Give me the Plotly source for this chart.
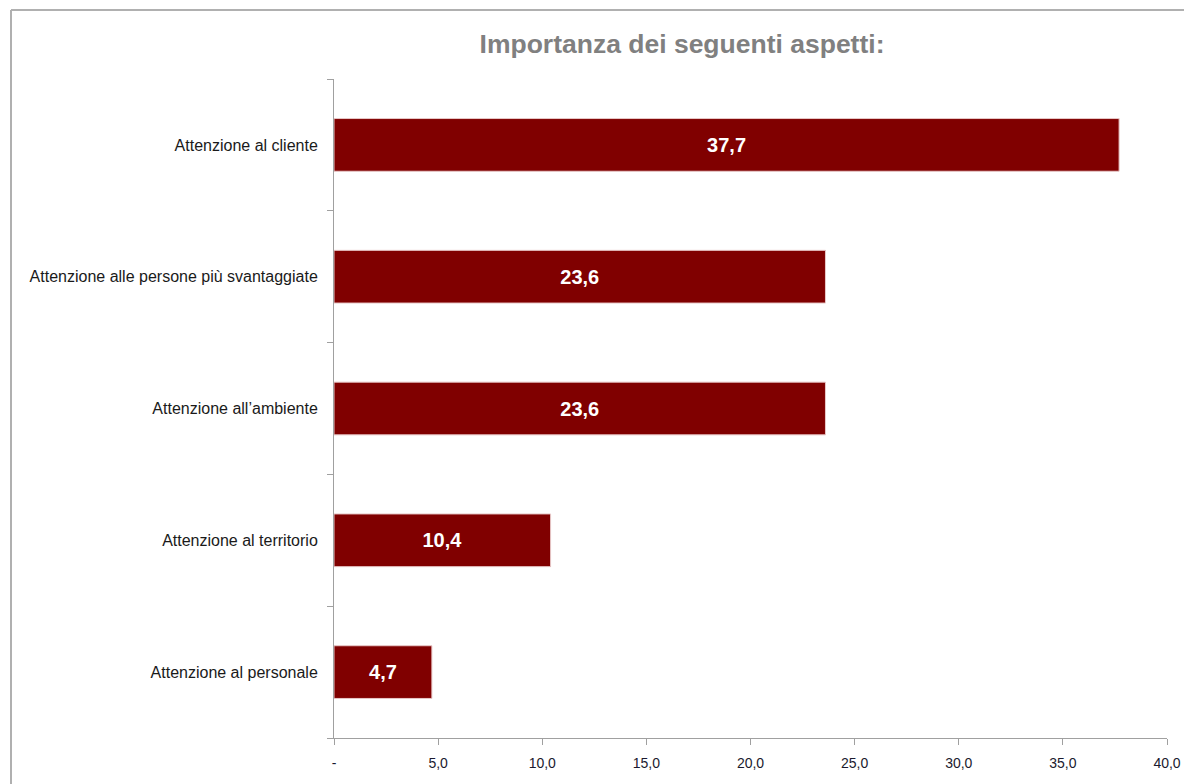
import plotly.graph_objects as go

categories = [
    "Attenzione al cliente",
    "Attenzione alle persone più svantaggiate",
    "Attenzione all’ambiente",
    "Attenzione al territorio",
    "Attenzione al personale",
]
values = [37.7, 23.6, 23.6, 10.4, 4.7]
x_tickvals = [0, 5, 10, 15, 20, 25, 30, 35, 40]
x_ticktext = ["-", "5,0", "10,0", "15,0", "20,0", "25,0", "30,0", "35,0", "40,0"]

FONT = "Liberation Sans, Arial, sans-serif"

fig = go.Figure()
fig.add_trace(go.Bar(
    y=categories,
    x=values,
    orientation="h",
    marker=dict(color="#800000", line=dict(color="#e8c8c8", width=1)),
    text=[f"{v:.1f}".replace(".", ",") for v in values],
    textposition="inside",
    insidetextanchor="middle",
    textfont=dict(family=FONT, size=20, color="white", weight="bold"),
    hoverinfo="skip",
))

W, H = 1184, 784
L, R, T, B = 334, 17, 79, 46
pw, ph = W - L - R, H - T - B

def px_x(x):
    return (x - L) / pw

def px_y(y):
    return (H - B - y) / ph

fig.update_layout(
    width=W, height=H,
    margin=dict(l=L, r=R, t=T, b=B, pad=0, autoexpand=False),
    paper_bgcolor="white",
    plot_bgcolor="white",
    showlegend=False,
    bargap=0.6,
    title=dict(
        text="<b>Importanza dei seguenti aspetti:</b>",
        x=682 / W, xanchor="center",
        y=1 - 44 / H, yanchor="middle",
        font=dict(family=FONT, size=26.5, color="#808080"),
    ),
    xaxis=dict(
        range=[0, 40],
        tickvals=x_tickvals,
        ticktext=x_ticktext,
        ticks="outside", ticklen=6, tickcolor="#a0a0a0", tickwidth=1,
        showline=True, linecolor="#a0a0a0", linewidth=1,
        showgrid=False, zeroline=False,
        tickfont=dict(family=FONT, size=14, color="#1a1a2e"),
        ticklabelstandoff=6,
        automargin=False,
        fixedrange=True,
    ),
    yaxis=dict(
        categoryorder="array",
        categoryarray=categories[::-1],
        ticks="outside", ticklen=6, tickcolor="#a0a0a0", tickwidth=1,
        tickson="boundaries",
        showline=True, linecolor="#a0a0a0", linewidth=1,
        showgrid=False, zeroline=False,
        tickfont=dict(family=FONT, size=16, color="#1a1a1a"),
        ticklabelstandoff=12,
        automargin=False,
        fixedrange=True,
    ),
    shapes=[
        dict(type="line", xref="paper", yref="paper",
             x0=px_x(11), x1=px_x(1200), y0=px_y(10), y1=px_y(10),
             line=dict(color="#b0b0b0", width=2)),
        dict(type="line", xref="paper", yref="paper",
             x0=px_x(11), x1=px_x(11), y0=px_y(10), y1=px_y(800),
             line=dict(color="#b0b0b0", width=2)),
    ],
)

fig.write_html("out.html")
